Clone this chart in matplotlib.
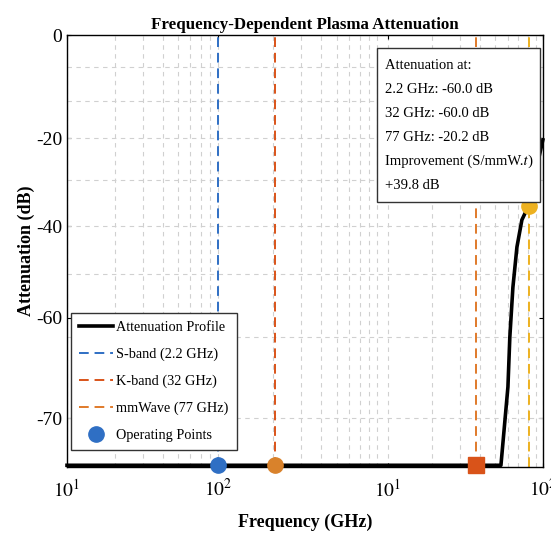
import matplotlib

matplotlib.use("Agg")
import matplotlib.pyplot as plt
from matplotlib.patches import Rectangle
from matplotlib.ticker import FixedLocator, NullFormatter

plt.rcParams["font.family"] = ["Liberation Serif", "STIXGeneral", "DejaVu Serif"]
plt.rcParams["mathtext.fontset"] = "stix"

# attenuation profile (GHz, dB on the drawn scale)
freq = [0.1, 1.0, 10.0, 54.3, 60.1, 61.8, 64.6, 68.5, 73.6, 80.3, 99.8]
atten = [-74.7, -74.7, -74.7, -74.7, -61.1, -52.4, -43.8, -36.8, -32.1, -29.9, -18.2]

# vertical band markers
band_freq = [0.9, 2.05, 37.8, 81.5]
band_labels = ["S-band (2.2 GHz)", "K-band (32 GHz)", "mmWave (77 GHz)", None]
band_colors = ["#2F6FC4", "#D95319", "#E07A2A", "#EDB120"]

# operating points
op_freq = [0.9, 2.05, 37.8, 81.5]
op_atten = [-74.7, -74.7, -74.7, -29.7]
op_colors = ["#2F6FC4", "#D9822B", "#D95319", "#EDB120"]
op_markers = ["o", "o", "s", "o"]

# axis ticks as drawn in the picture
x_tick_pos = [0.1, 0.9, 10.5, 100]
x_tick_labels = ["$10^1$", "$10^2$", "$10^1$", "$10^2$"]
y_tick_pos = [0, -17.9, -33.2, -49.1, -66.5]
y_tick_labels = ["0", "-20", "-40", "-60", "-70"]
y_grid_pos = [-5.56, -11.46, -17.88, -25.17, -33.16, -41.49, -52.43, -66.49]

info_lines = [
    "Attenuation at:",
    "2.2 GHz: -60.0 dB",
    "32 GHz: -60.0 dB",
    "77 GHz: -20.2 dB",
    "Improvement (S/mmW.\U0001D461)",
    "+39.8 dB",
]

fig = plt.figure(figsize=(5.51, 5.33), dpi=100)
ax = fig.add_axes([0.1216, 0.1238, 0.8639, 0.8105])

ax.set_xscale("log")
ax.set_xlim(0.1, 100)
ax.set_ylim(-75, 0)

handles = []
for f, label, color in zip(band_freq, band_labels, band_colors):
    line = ax.axvline(f, color=color, linestyle=(0, (5, 3)), linewidth=1.4, zorder=2)
    if label:
        line.set_label(label)
        handles.append(line)

(profile,) = ax.plot(freq, atten, color="black", linewidth=2.6, label="Attenuation Profile",
                     zorder=3, clip_on=False)
handles.insert(0, profile)

for i, (f, a, c, m) in enumerate(zip(op_freq, op_atten, op_colors, op_markers)):
    (pt,) = ax.plot(f, a, marker=m, color=c, markersize=11, linestyle="none", zorder=4,
                    clip_on=False, label="Operating Points" if i == 0 else None)
    if i == 0:
        handles.append(pt)

ax.xaxis.set_major_locator(FixedLocator(x_tick_pos))
ax.set_xticklabels(x_tick_labels)
ax.xaxis.set_minor_formatter(NullFormatter())
ax.yaxis.set_major_locator(FixedLocator(y_tick_pos))
ax.set_yticklabels(y_tick_labels)
ax.yaxis.set_minor_locator(FixedLocator(y_grid_pos))

ax.tick_params(axis="both", which="major", labelsize=14, direction="in", length=3, top=True, right=True)
ax.tick_params(axis="both", which="minor", length=0)
ax.tick_params(axis="x", which="major", pad=8)
ax.grid(axis="x", which="both", color="#d0d0d0", linestyle=(0, (4, 4)), linewidth=0.8)
ax.grid(axis="y", which="minor", color="#d0d0d0", linestyle=(0, (4, 4)), linewidth=0.8)
ax.set_axisbelow(True)

for spine in ax.spines.values():
    spine.set_linewidth(1.0)

ax.set_title("Frequency-Dependent Plasma Attenuation", fontsize=12.2, fontweight="bold", pad=4)
ax.set_xlabel("Frequency (GHz)", fontsize=13, fontweight="bold", labelpad=10)
ax.set_ylabel("Attenuation (dB)", fontsize=13, fontweight="bold", labelpad=1)

leg = ax.legend(handles=handles, loc="lower left", bbox_to_anchor=(0.0, 0.03), fontsize=10.3,
                fancybox=False, framealpha=1, edgecolor="#333333", handlelength=2.4,
                handletextpad=0.2, labelspacing=0.95, borderpad=0.55, borderaxespad=0.3)
leg.get_frame().set_linewidth(1.0)

# info box in the upper right corner
ax.add_patch(Rectangle((0.651, 0.613), 0.342, 0.357, transform=ax.transAxes, facecolor="white",
                       edgecolor="#333333", linewidth=1.0, zorder=6))
for i, text in enumerate(info_lines):
    ax.text(0.668, 0.930 - i * 0.0556, text, transform=ax.transAxes, fontsize=10.5,
            va="center", ha="left", zorder=7)

fig.savefig("out.png", dpi=100)
